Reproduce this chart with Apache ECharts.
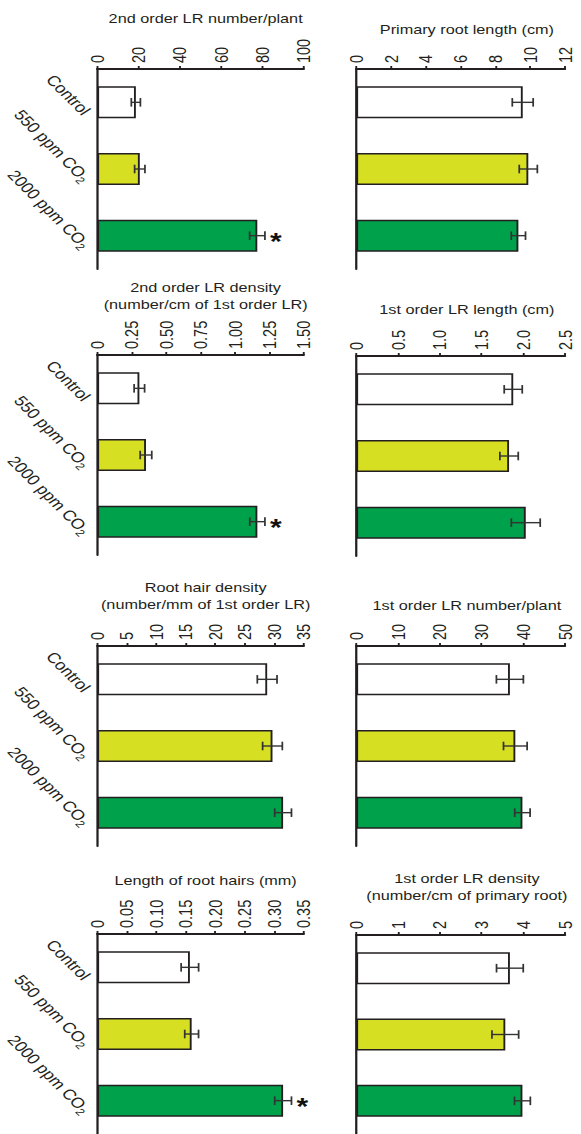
<!DOCTYPE html>
<html><head><meta charset="utf-8">
<script src="https://cdn.jsdelivr.net/npm/echarts@6/dist/echarts.min.js"></script>
<style>
html,body{margin:0;padding:0;background:#fff;overflow:hidden}
#main{width:465px;height:1134px;transform:scaleX(1.25);transform-origin:0 0;}
</style>
</head><body><div id="main"></div>
<script>
// ---------- DATA ----------
const categories = ['Control', '550 ppm CO2', '2000 ppm CO2'];

const lr2NumTitle = '2nd order LR number/plant';
const lr2Num = [18.7, 20.6, 77.5];
const lr2NumErr = [2.2, 2.5, 3.7];
const lr2NumSig = [false, false, true];
const lr2NumTicks = ['0', '20', '40', '60', '80', '100'];

const primLenTitle = 'Primary root length (cm)';
const primLen = [9.57, 9.89, 9.32];
const primLenErr = [0.6, 0.52, 0.41];
const primLenSig = [false, false, false];
const primLenTicks = ['0', '2', '4', '6', '8', '10', '12'];

const lr2DenTitle = '2nd order LR density\n(number/cm of 1st order LR)';
const lr2Den = [0.306, 0.354, 1.163];
const lr2DenErr = [0.038, 0.042, 0.055];
const lr2DenSig = [false, false, true];
const lr2DenTicks = ['0', '0.25', '0.50', '0.75', '1.00', '1.25', '1.50'];

const lr1LenTitle = '1st order LR length (cm)';
const lr1Len = [1.88, 1.83, 2.03];
const lr1LenErr = [0.108, 0.11, 0.173];
const lr1LenSig = [false, false, false];
const lr1LenTicks = ['0', '0.5', '1.0', '1.5', '2.0', '2.5'];

const hairDenTitle = 'Root hair density\n(number/mm of 1st order LR)';
const hairDen = [28.8, 29.7, 31.5];
const hairDenErr = [1.67, 1.67, 1.42];
const hairDenSig = [false, false, false];
const hairDenTicks = ['0', '5', '10', '15', '20', '25', '30', '35'];

const lr1NumTitle = '1st order LR number/plant';
const lr1Num = [36.8, 38.1, 39.8];
const lr1NumErr = [3.23, 2.83, 1.84];
const lr1NumSig = [false, false, false];
const lr1NumTicks = ['0', '10', '20', '30', '40', '50'];

const hairLenTitle = 'Length of root hairs (mm)';
const hairLen = [0.157, 0.160, 0.315];
const hairLenErr = [0.0148, 0.0117, 0.0142];
const hairLenSig = [false, false, true];
const hairLenTicks = ['0', '0.05', '0.10', '0.15', '0.20', '0.25', '0.30', '0.35'];

const lr1DenTitle = '1st order LR density\n(number/cm of primary root)';
const lr1Den = [3.68, 3.57, 3.98];
const lr1DenErr = [0.32, 0.32, 0.19];
const lr1DenSig = [false, false, false];
const lr1DenTicks = ['0', '1', '2', '3', '4', '5'];

// ---------- PANELS (row-major: left, right) ----------
const panels = [
  [lr2NumTitle, lr2Num, lr2NumErr, lr2NumSig, lr2NumTicks],
  [primLenTitle, primLen, primLenErr, primLenSig, primLenTicks],
  [lr2DenTitle, lr2Den, lr2DenErr, lr2DenSig, lr2DenTicks],
  [lr1LenTitle, lr1Len, lr1LenErr, lr1LenSig, lr1LenTicks],
  [hairDenTitle, hairDen, hairDenErr, hairDenSig, hairDenTicks],
  [lr1NumTitle, lr1Num, lr1NumErr, lr1NumSig, lr1NumTicks],
  [hairLenTitle, hairLen, hairLenErr, hairLenSig, hairLenTicks],
  [lr1DenTitle, lr1Den, lr1DenErr, lr1DenSig, lr1DenTicks]
];

// ---------- LAYOUT / STYLE ----------
const INK = '#231f20';
const barColors = ['#ffffff', '#d7df23', '#00a14b'];
const colX = [76, 285];
const AXIS_W = 167, GRID_H = 200;
const rowTops = [[69, 69], [355, 356], [646, 646], [934, 935]];
const titleTops = [[5, 16], [274, 296], [574, 592], [867, 865]];
const FONT = 'Liberation Sans, Arial, Helvetica, sans-serif';

const option = {
  backgroundColor: '#fff',
  animation: false,
  title: [], grid: [], xAxis: [], yAxis: [], series: []
};

panels.forEach((p, k) => {
  const [title, vals, errs, sig, ticks] = p;
  const row = Math.floor(k / 2), col = k % 2;
  const interval = Number(ticks[1]);
  const max = Number(ticks[ticks.length - 1]);
  const left = colX[col];
  option.title.push({
    text: title,
    left: left + AXIS_W / 2,
    top: titleTops[row][col],
    textAlign: 'center',
    textStyle: { fontFamily: FONT, fontSize: 13, fontWeight: 'normal', color: INK, lineHeight: 17 }
  });
  option.grid.push({ left: left, top: rowTops[row][col], width: AXIS_W, height: GRID_H, containLabel: false });
  option.xAxis.push({
    gridIndex: k, type: 'value', position: 'top', min: 0, max: max, interval: interval,
    splitLine: { show: false },
    axisLine: { show: true, lineStyle: { color: INK, width: 2 } },
    axisTick: { show: true, inside: false, length: 3, lineStyle: { color: INK, width: 1.5 } },
    axisLabel: {
      rotate: -90, margin: 6, fontFamily: FONT, fontSize: 14.5, color: INK,
      showMinLabel: true, showMaxLabel: true,
      formatter: (v) => ticks[Math.round(v / interval)]
    }
  });
  option.yAxis.push({
    gridIndex: k, type: 'category', data: categories, inverse: true,
    axisLine: { show: true, onZero: false, lineStyle: { color: INK, width: 1.8 } },
    axisTick: { show: false },
    axisLabel: {
      show: col === 0, interval: 0, rotate: -51, margin: -5,
      padding: [34, 0, 0, 0],
      fontFamily: FONT, fontSize: 14.5, color: INK,
      formatter: (v) => v.replace('CO2', 'CO{sub|2}'),
      rich: { sub: { fontFamily: FONT, fontSize: 10, color: INK, padding: [9, 0, 0, 0] } }
    }
  });
  option.series.push({
    type: 'bar', xAxisIndex: k, yAxisIndex: k, barWidth: 32,
    data: vals.map((v, i) => ({ value: v, itemStyle: { color: barColors[i] } })),
    itemStyle: { borderColor: INK, borderWidth: 1.5 }
  });
  option.series.push({
    type: 'custom', xAxisIndex: k, yAxisIndex: k,
    encode: { x: 0, y: 1 },
    data: vals.map((v, i) => [v, i, errs[i], sig[i] ? 1 : 0]),
    renderItem: (params, api) => {
      const v = api.value(0), idx = api.value(1), e = api.value(2), s = api.value(3);
      const lo = api.coord([v - e, idx]);
      const hi = api.coord([v + e, idx]);
      const y = lo[1], h = 4.3;
      const st = { stroke: '#333333', lineWidth: 1.4 };
      const children = [
        { type: 'line', shape: { x1: lo[0], y1: y, x2: hi[0], y2: y }, style: st },
        { type: 'line', shape: { x1: lo[0], y1: y - h, x2: lo[0], y2: y + h }, style: st },
        { type: 'line', shape: { x1: hi[0], y1: y - h, x2: hi[0], y2: y + h }, style: st }
      ];
      if (s) {
        children.push({
          type: 'text',
          style: { text: '*', x: hi[0] + 4, y: y + 5.5, fill: '#111', font: 'bold 24px ' + FONT,
                   textAlign: 'left', textVerticalAlign: 'middle', align: 'left', verticalAlign: 'middle' }
        });
      }
      return { type: 'group', children: children };
    },
    z: 5
  });
});

const chart = echarts.init(document.getElementById('main'), null, { renderer: 'svg', width: 465, height: 1134 });
chart.setOption(option);
</script>
</body></html>
